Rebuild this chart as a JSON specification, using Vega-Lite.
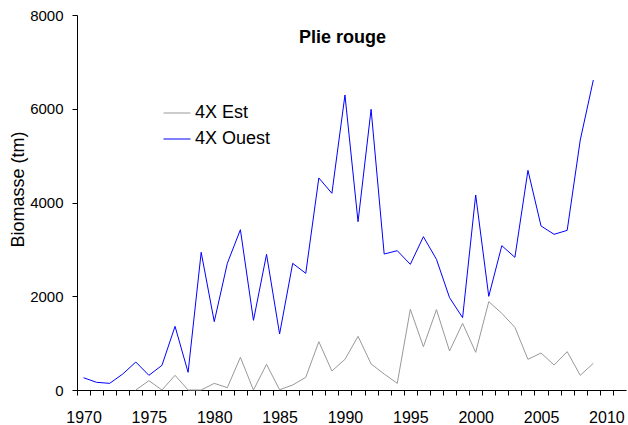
{
  "$schema": "https://vega.github.io/schema/vega-lite/v6.json",
  "width": 549,
  "height": 375,
  "autosize": "none",
  "padding": {"left": 77, "top": 15, "right": 2, "bottom": 35},
  "background": "white",
  "config": {
    "view": {"stroke": null},
    "font": "Liberation Sans",
    "axis": {
      "grid": false,
      "domainColor": "#000000",
      "tickColor": "#000000",
      "labelColor": "#000000",
      "titleColor": "#000000",
      "labelFont": "Liberation Sans",
      "titleFont": "Liberation Sans",
      "titleFontWeight": "normal",
      "domainWidth": 1,
      "tickWidth": 1
    }
  },
  "title": {
    "text": "Plie rouge",
    "font": "Liberation Sans",
    "fontSize": 18,
    "fontWeight": "bold",
    "color": "#000000",
    "anchor": "middle",
    "frame": "group",
    "dx": -9,
    "dy": 43
  },
  "data": {
    "values": [
      {"year": 1974, "series": "4X Est", "value": 0},
      {"year": 1975, "series": "4X Est", "value": 199},
      {"year": 1976, "series": "4X Est", "value": 0},
      {"year": 1977, "series": "4X Est", "value": 313},
      {"year": 1978, "series": "4X Est", "value": 0},
      {"year": 1979, "series": "4X Est", "value": 0},
      {"year": 1980, "series": "4X Est", "value": 142},
      {"year": 1981, "series": "4X Est", "value": 50},
      {"year": 1982, "series": "4X Est", "value": 697},
      {"year": 1983, "series": "4X Est", "value": 0},
      {"year": 1984, "series": "4X Est", "value": 548},
      {"year": 1985, "series": "4X Est", "value": 5},
      {"year": 1986, "series": "4X Est", "value": 107},
      {"year": 1987, "series": "4X Est", "value": 270},
      {"year": 1988, "series": "4X Est", "value": 1031},
      {"year": 1989, "series": "4X Est", "value": 405},
      {"year": 1990, "series": "4X Est", "value": 654},
      {"year": 1991, "series": "4X Est", "value": 1145},
      {"year": 1992, "series": "4X Est", "value": 555},
      {"year": 1993, "series": "4X Est", "value": 341},
      {"year": 1994, "series": "4X Est", "value": 142},
      {"year": 1995, "series": "4X Est", "value": 1721},
      {"year": 1996, "series": "4X Est", "value": 924},
      {"year": 1997, "series": "4X Est", "value": 1714},
      {"year": 1998, "series": "4X Est", "value": 832},
      {"year": 1999, "series": "4X Est", "value": 1422},
      {"year": 2000, "series": "4X Est", "value": 804},
      {"year": 2001, "series": "4X Est", "value": 1884},
      {"year": 2002, "series": "4X Est", "value": 1636},
      {"year": 2003, "series": "4X Est", "value": 1337},
      {"year": 2004, "series": "4X Est", "value": 654},
      {"year": 2005, "series": "4X Est", "value": 789},
      {"year": 2006, "series": "4X Est", "value": 533},
      {"year": 2007, "series": "4X Est", "value": 818},
      {"year": 2008, "series": "4X Est", "value": 313},
      {"year": 2009, "series": "4X Est", "value": 569},
      {"year": 1970, "series": "4X Ouest", "value": 262},
      {"year": 1971, "series": "4X Ouest", "value": 164},
      {"year": 1972, "series": "4X Ouest", "value": 142},
      {"year": 1973, "series": "4X Ouest", "value": 341},
      {"year": 1974, "series": "4X Ouest", "value": 597},
      {"year": 1975, "series": "4X Ouest", "value": 313},
      {"year": 1976, "series": "4X Ouest", "value": 526},
      {"year": 1977, "series": "4X Ouest", "value": 1358},
      {"year": 1978, "series": "4X Ouest", "value": 377},
      {"year": 1979, "series": "4X Ouest", "value": 2937},
      {"year": 1980, "series": "4X Ouest", "value": 1458},
      {"year": 1981, "series": "4X Ouest", "value": 2702},
      {"year": 1982, "series": "4X Ouest", "value": 3420},
      {"year": 1983, "series": "4X Ouest", "value": 1486},
      {"year": 1984, "series": "4X Ouest", "value": 2894},
      {"year": 1985, "series": "4X Ouest", "value": 1195},
      {"year": 1986, "series": "4X Ouest", "value": 2702},
      {"year": 1987, "series": "4X Ouest", "value": 2489},
      {"year": 1988, "series": "4X Ouest", "value": 4523},
      {"year": 1989, "series": "4X Ouest", "value": 4196},
      {"year": 1990, "series": "4X Ouest", "value": 6293},
      {"year": 1991, "series": "4X Ouest", "value": 3591},
      {"year": 1992, "series": "4X Ouest", "value": 5988},
      {"year": 1993, "series": "4X Ouest", "value": 2901},
      {"year": 1994, "series": "4X Ouest", "value": 2972},
      {"year": 1995, "series": "4X Ouest", "value": 2681},
      {"year": 1996, "series": "4X Ouest", "value": 3271},
      {"year": 1997, "series": "4X Ouest", "value": 2788},
      {"year": 1998, "series": "4X Ouest", "value": 1970},
      {"year": 1999, "series": "4X Ouest", "value": 1543},
      {"year": 2000, "series": "4X Ouest", "value": 4160},
      {"year": 2001, "series": "4X Ouest", "value": 1998},
      {"year": 2002, "series": "4X Ouest", "value": 3079},
      {"year": 2003, "series": "4X Ouest", "value": 2830},
      {"year": 2004, "series": "4X Ouest", "value": 4686},
      {"year": 2005, "series": "4X Ouest", "value": 3499},
      {"year": 2006, "series": "4X Ouest", "value": 3321},
      {"year": 2007, "series": "4X Ouest", "value": 3406},
      {"year": 2008, "series": "4X Ouest", "value": 5333},
      {"year": 2009, "series": "4X Ouest", "value": 6613}
    ]
  },
  "mark": {"type": "line", "strokeWidth": 1, "interpolate": "linear"},
  "encoding": {
    "x": {
      "field": "year",
      "type": "quantitative",
      "scale": {"domain": [1969.5, 2011.5], "nice": false, "zero": false},
      "axis": {
        "title": null,
        "values": [1970, 1971, 1972, 1973, 1974, 1975, 1976, 1977, 1978, 1979, 1980, 1981, 1982, 1983, 1984, 1985, 1986, 1987, 1988, 1989, 1990, 1991, 1992, 1993, 1994, 1995, 1996, 1997, 1998, 1999, 2000, 2001, 2002, 2003, 2004, 2005, 2006, 2007, 2008, 2009, 2010, 2011, 2012],
        "tickOffset": -6.536,
        "labelOffset": 6.536,
        "labelExpr": "datum.value % 5 === 0 && datum.value <= 2010 ? '' + datum.value : ''",
        "labelOverlap": false,
        "labelFlush": false,
        "labelBound": false,
        "labelFontSize": 16,
        "labelPadding": 14,
        "tickSize": 5
      }
    },
    "y": {
      "field": "value",
      "type": "quantitative",
      "scale": {"domain": [0, 8000], "nice": false},
      "axis": {
        "title": "Biomasse (tm)",
        "titleFontSize": 18,
        "titlePadding": 2,
        "titleY": 174,
        "values": [0, 2000, 4000, 6000, 8000],
        "format": "d",
        "labelFontSize": 15,
        "labelPadding": 9,
        "tickSize": 5
      }
    },
    "color": {
      "field": "series",
      "type": "nominal",
      "scale": {"domain": ["4X Est", "4X Ouest"], "range": ["#999999", "#0000ff"]},
      "legend": {
        "title": null,
        "orient": "none",
        "legendX": 86,
        "legendY": 84,
        "padding": 0,
        "symbolType": "stroke",
        "symbolSize": 729,
        "symbolStrokeWidth": 1,
        "labelFontSize": 18,
        "labelFont": "Liberation Sans",
        "labelColor": "#000000",
        "labelOffset": 4,
        "rowPadding": 3
      }
    }
  }
}
